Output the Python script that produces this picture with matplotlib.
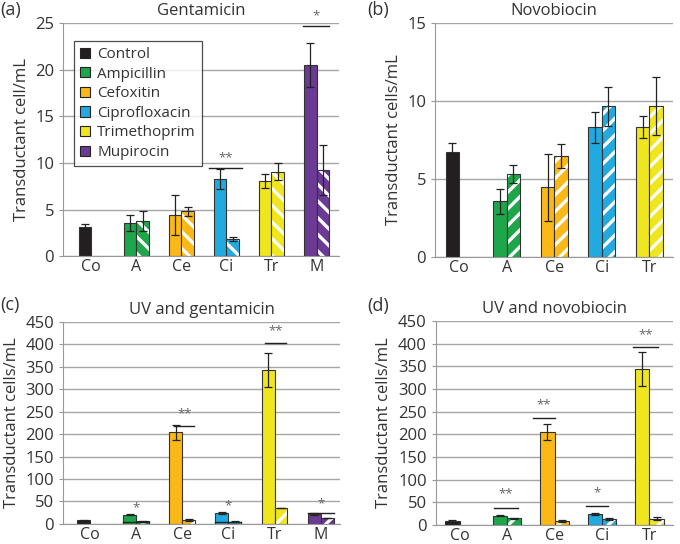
import matplotlib as mpl
import matplotlib.pyplot as plt
import numpy as np
from matplotlib.patches import Patch

mpl.rcParams['font.family'] = ['Open Sans', 'DejaVu Sans']
mpl.rcParams['hatch.linewidth'] = 2.4

nan = np.nan

# 色
colors = ['#231f20', '#1ea64b', '#fbb817', '#22a9e0', '#f0e61f', '#6a3a94']
legend_names = ['Control', 'Ampicillin', 'Cefoxitin', 'Ciprofloxacin', 'Trimethoprim', 'Mupirocin']

groups6 = ['Co', 'A', 'Ce', 'Ci', 'Tr', 'M']
groups5 = ['Co', 'A', 'Ce', 'Ci', 'Tr']

# (a) Gentamicin
gent_solid = [3.1, 3.55, 4.45, 8.3, 8.05, 20.5]
gent_solid_err = [0.35, 0.85, 2.15, 1.05, 0.75, 2.35]
gent_hatch = [nan, 3.8, 4.8, 1.85, 9.05, 9.25]
gent_hatch_err = [nan, 1.05, 0.5, 0.2, 0.9, 2.65]

# (b) Novobiocin
novo_solid = [6.75, 3.55, 4.45, 8.3, 8.3]
novo_solid_err = [0.55, 0.82, 2.15, 1.0, 0.7]
novo_hatch = [nan, 5.3, 6.45, 9.65, 9.65]
novo_hatch_err = [nan, 0.6, 0.77, 1.25, 1.85]

# (c) UV and gentamicin
uvg_solid = [8, 20, 204, 24, 344, 22]
uvg_solid_err = [1, 1, 16, 1.5, 38, 1.5]
uvg_hatch = [nan, 6, 9, 5, 35, 13]
uvg_hatch_err = [nan, 1, 1.5, 1, 0.5, 1]

# (d) UV and novobiocin
uvn_solid = [8, 20, 205, 24, 344]
uvn_solid_err = [2, 1, 17, 2, 38]
uvn_hatch = [nan, 15, 8, 13, 14]
uvn_hatch_err = [nan, 1, 2, 2.5, 3]

# 有意差表示 (group, x0, x1, line y, star y, text)
sig_a = [(3, -0.38, 0.35, 9.4, 9.9, '**'), (5, -0.29, 0.27, 24.7, 25.1, '*')]
sig_b = []
sig_c = [(1, -0.28, 0.28, 5, 22, '*'), (2, -0.17, 0.26, 218, 232, '**'),
         (3, -0.28, 0.28, 5, 26, '*'), (4, -0.2, 0.26, 403, 415, '**'),
         (5, -0.28, 0.28, 24, 30, '*')]
sig_d = [(1, -0.27, 0.23, 37, 55, '**'), (2, -0.46, 0.02, 236, 250, '**'),
         (3, -0.34, 0.13, 42, 56, '*'), (4, -0.34, 0.19, 392, 405, '**')]


def draw_panel(ax, groups, solid, solid_err, hatch, hatch_err, sig, hatch_pat,
               ymax, ystep, xlim, title, ylabel, w):
    x = np.arange(len(groups))
    for i in range(len(groups)):
        ax.bar(x[i] - w / 2, solid[i], w, color=colors[i], edgecolor='#333333', linewidth=0.8, zorder=2)
        ax.errorbar(x[i] - w / 2, solid[i], yerr=solid_err[i], fmt='none', ecolor='#222222',
                    elinewidth=0.9, capsize=3, capthick=0.9, zorder=4)
        if not np.isnan(hatch[i]):
            ax.bar(x[i] + w / 2, hatch[i], w, color=colors[i], edgecolor='white', hatch=hatch_pat,
                   linewidth=0, zorder=2)
            ax.bar(x[i] + w / 2, hatch[i], w, fill=False, edgecolor='#333333', linewidth=0.8, zorder=3)
            ax.errorbar(x[i] + w / 2, hatch[i], yerr=hatch_err[i], fmt='none', ecolor='#222222',
                        elinewidth=0.9, capsize=3, capthick=0.9, zorder=4)
    for g, x0, x1, ly, sy, txt in sig:
        ax.plot([g + x0, g + x1], [ly, ly], color='#222222', linewidth=1, zorder=5)
        ax.text(g + (x0 + x1) / 2, sy, txt, ha='center', va='bottom', fontsize=9.5, color='#666666', zorder=5)
    ax.set_xlim(xlim)
    ax.set_ylim(0, ymax)
    ax.set_yticks(np.arange(0, ymax + 0.1, ystep))
    ax.set_xticks(x)
    ax.set_xticklabels(groups)
    ax.yaxis.grid(True, color='#a6a6a6', linewidth=1)
    ax.set_axisbelow(True)
    for s in ['top', 'right']:
        ax.spines[s].set_visible(False)
    for s in ['left', 'bottom']:
        ax.spines[s].set_color('#999999')
    ax.tick_params(axis='x', length=0, pad=2, labelsize=11.5, labelcolor='#333333')
    ax.tick_params(axis='y', length=3, color='#999999', labelsize=12, labelcolor='#333333')
    ax.set_title(title, fontsize=12, color='#333333', pad=6)
    ax.set_ylabel(ylabel, fontsize=12, color='#333333')


fig = plt.figure(figsize=(6.8, 5.44), dpi=100)

ax1 = fig.add_axes([0.093, 0.529, 0.405, 0.429])
draw_panel(ax1, groups6, gent_solid, gent_solid_err, gent_hatch, gent_hatch_err, sig_a, '\\\\',
           25, 5, (-0.62, 5.49), 'Gentamicin', 'Transductant cell/mL', 0.28)
handles = [Patch(facecolor=c, edgecolor='#222222', linewidth=0.8) for c in colors]
leg = ax1.legend(handles, legend_names, loc='upper left', bbox_to_anchor=(0.01, 0.955), fontsize=11,
                 handlelength=0.65, handleheight=0.65, handletextpad=0.5, labelspacing=0.3,
                 fancybox=False, edgecolor='#222222', borderpad=0.4)
leg.get_frame().set_linewidth(0.9)
for t in leg.get_texts():
    t.set_color('#333333')

ax2 = fig.add_axes([0.640, 0.528, 0.350, 0.430])
draw_panel(ax2, groups5, novo_solid, novo_solid_err, novo_hatch, novo_hatch_err, sig_b, '//',
           15, 5, (-0.5, 4.5), 'Novobiocin', 'Transductant cells/mL', 0.28)

ax3 = fig.add_axes([0.093, 0.037, 0.407, 0.371])
draw_panel(ax3, groups6, uvg_solid, uvg_solid_err, uvg_hatch, uvg_hatch_err, sig_c, '//',
           450, 50, (-0.58, 5.42), 'UV and gentamicin', 'Transductant cells/mL', 0.28)

ax4 = fig.add_axes([0.641, 0.035, 0.349, 0.375])
draw_panel(ax4, groups5, uvn_solid, uvn_solid_err, uvn_hatch, uvn_hatch_err, sig_d, '//',
           450, 50, (-0.5, 4.5), 'UV and novobiocin', 'Transductant cells/mL', 0.3)

fig.text(0.0, 0.982, '(a)', fontsize=13, color='#333333', va='center')
fig.text(0.54, 0.982, '(b)', fontsize=13, color='#333333', va='center')
fig.text(0.0, 0.44, '(c)', fontsize=13, color='#333333', va='center')
fig.text(0.54, 0.438, '(d)', fontsize=13, color='#333333', va='center')

fig.savefig('out.png', dpi=100)
